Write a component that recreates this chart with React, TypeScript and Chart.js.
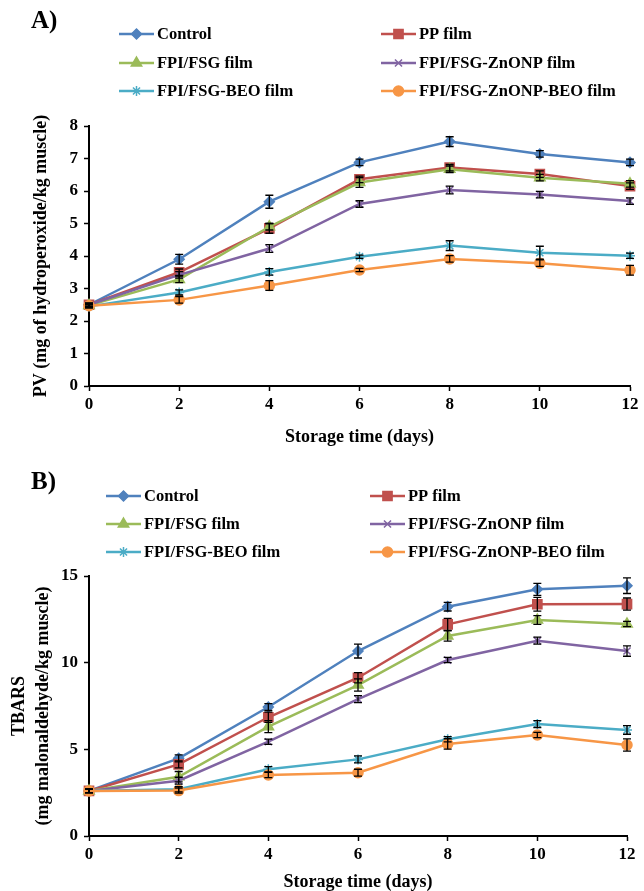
import React, { useEffect, useRef } from "react";
import { Chart, registerables } from "chart.js";
import { drawPoint } from "chart.js/helpers";

Chart.register(...registerables);

const FONT = '"Liberation Serif", "Times New Roman", "DejaVu Serif", serif';

// ---------- data ----------
const days = [0, 2, 4, 6, 8, 10, 12];
const seriesNames = [
  "Control",
  "PP film",
  "FPI/FSG film",
  "FPI/FSG-ZnONP film",
  "FPI/FSG-BEO film",
  "FPI/FSG-ZnONP-BEO film",
];
const seriesColors = ["#4F81BD", "#C0504D", "#9BBB59", "#8064A2", "#4BACC6", "#F79646"];
const seriesMarkers = ["rectRot", "rect", "triangle", "crossRot", "star", "circle"];
const markerRadius = [5, 6.5, 6, 5, 5, 5];

// Panel A: PV (mg of hydroperoxide/kg muscle)
const pvControl = [2.5, 3.9, 5.67, 6.88, 7.52, 7.14, 6.88];
const pvPP = [2.5, 3.5, 4.85, 6.36, 6.72, 6.52, 6.15];
const pvFSG = [2.48, 3.28, 4.9, 6.26, 6.67, 6.41, 6.22];
const pvZnONP = [2.5, 3.42, 4.23, 5.6, 6.03, 5.89, 5.69];
const pvBEO = [2.45, 2.88, 3.51, 3.98, 4.32, 4.1, 4.01];
const pvZnONPBEO = [2.47, 2.65, 3.09, 3.57, 3.91, 3.78, 3.56];

const pvErrControl = [0.05, 0.15, 0.2, 0.1, 0.15, 0.1, 0.1];
const pvErrPP = [0.05, 0.1, 0.15, 0.1, 0.1, 0.1, 0.1];
const pvErrFSG = [0.05, 0.1, 0.1, 0.15, 0.1, 0.1, 0.1];
const pvErrZnONP = [0.05, 0.1, 0.12, 0.1, 0.12, 0.1, 0.1];
const pvErrBEO = [0.05, 0.08, 0.1, 0.05, 0.15, 0.2, 0.08];
const pvErrZnONPBEO = [0.05, 0.1, 0.15, 0.05, 0.1, 0.1, 0.15];

// Panel B: TBARS (mg malonaldehyde/kg muscle)
const tbControl = [2.6, 4.48, 7.44, 10.67, 13.23, 14.23, 14.44];
const tbPP = [2.6, 4.13, 6.85, 9.13, 12.21, 13.37, 13.38];
const tbFSG = [2.6, 3.42, 6.31, 8.71, 11.54, 12.46, 12.23];
const tbZnONP = [2.6, 3.19, 5.44, 7.9, 10.15, 11.27, 10.67];
const tbBEO = [2.6, 2.7, 3.85, 4.42, 5.58, 6.46, 6.12];
const tbZnONPBEO = [2.6, 2.62, 3.52, 3.65, 5.31, 5.83, 5.25];

const tbErrControl = [0.1, 0.2, 0.2, 0.4, 0.25, 0.35, 0.45];
const tbErrPP = [0.1, 0.2, 0.3, 0.3, 0.35, 0.4, 0.35];
const tbErrFSG = [0.1, 0.3, 0.35, 0.35, 0.3, 0.25, 0.15];
const tbErrZnONP = [0.1, 0.2, 0.15, 0.2, 0.15, 0.2, 0.3];
const tbErrBEO = [0.1, 0.15, 0.15, 0.2, 0.15, 0.2, 0.25];
const tbErrZnONPBEO = [0.1, 0.15, 0.15, 0.2, 0.3, 0.15, 0.35];

const xMin = 0;
const xMax = 12;
const xStep = 2;
const pvYMax = 8;
const pvYStep = 1;
const tbYMax = 15;
const tbYStep = 5;

const xTitle = "Storage time (days)";
const pvYTitle = "PV (mg of hydroperoxide/kg muscle)";
const tbYTitle = ["TBARS", "(mg malonaldehyde/kg muscle)"];

// ---------- helpers ----------
type PanelSpec = {
  values: number[][];
  errors: number[][];
  yMax: number;
  yStep: number;
  yTitle: string | string[];
  yTitlePad: number;
  yTitleLineHeight: number;
  label: string;
  labelX: number;
  labelY: number;
  legendCols: number[];
  legendRows: number[];
  height: number;
  areaTop: number;
  areaBottom: number;
  areaRight: number;
  areaLeft: number;
  xTitlePad: number;
  xTitleLineHeight: number;
};

function makeConfig(p: PanelSpec): any {
  const errorBarPlugin = {
    id: "errorBars",
    afterDatasetsDraw(chart: any) {
      const ctx = chart.ctx;
      const ys = chart.scales.y;
      ctx.save();
      ctx.strokeStyle = "#000";
      ctx.lineWidth = 1.3;
      p.errors.forEach((errs, i) => {
        const meta = chart.getDatasetMeta(i);
        meta.data.forEach((pt: any, j: number) => {
          const v = p.values[i][j];
          const e = errs[j];
          const y1 = ys.getPixelForValue(v + e);
          const y2 = ys.getPixelForValue(v - e);
          ctx.beginPath();
          ctx.moveTo(pt.x, y1);
          ctx.lineTo(pt.x, y2);
          ctx.moveTo(pt.x - 4, y1);
          ctx.lineTo(pt.x + 4, y1);
          ctx.moveTo(pt.x - 4, y2);
          ctx.lineTo(pt.x + 4, y2);
          ctx.stroke();
        });
      });
      ctx.restore();
    },
  };

  const overlayPlugin = {
    id: "panelOverlay",
    afterDraw(chart: any) {
      const ctx = chart.ctx;
      ctx.save();
      ctx.fillStyle = "#000";
      ctx.textAlign = "left";
      ctx.textBaseline = "middle";
      ctx.font = `bold 25px ${FONT}`;
      ctx.fillText(p.label, p.labelX, p.labelY);
      ctx.font = `bold 16.5px ${FONT}`;
      const lineLen = 35;
      seriesNames.forEach((name, i) => {
        const x = p.legendCols[i % 2];
        const y = p.legendRows[Math.floor(i / 2)];
        ctx.strokeStyle = seriesColors[i];
        ctx.lineWidth = 2.5;
        ctx.beginPath();
        ctx.moveTo(x, y);
        ctx.lineTo(x + lineLen, y);
        ctx.stroke();
        ctx.fillStyle = seriesColors[i];
        ctx.strokeStyle = seriesColors[i];
        ctx.lineWidth = 1.5;
        drawPoint(
          ctx,
          { pointStyle: seriesMarkers[i], radius: markerRadius[i], rotation: 0, borderWidth: 1.5 } as any,
          x + lineLen / 2,
          y
        );
        ctx.fillStyle = "#000";
        ctx.fillText(name, x + lineLen + 3, y + 1);
      });
      ctx.restore();
    },
  };

  const tickFont = { family: FONT, size: 17, weight: "bold" as const };
  const titleFont = { family: FONT, size: 18, weight: "bold" as const };

  return {
    type: "line",
    data: {
      datasets: p.values.map((vals, i) => ({
        label: seriesNames[i],
        data: vals.map((v, j) => ({ x: days[j], y: v })),
        borderColor: seriesColors[i],
        backgroundColor: seriesColors[i],
        borderWidth: 2.5,
        pointStyle: seriesMarkers[i],
        pointRadius: markerRadius[i],
        pointBackgroundColor: seriesColors[i],
        pointBorderColor: seriesColors[i],
        pointBorderWidth: 1.5,
        tension: 0,
        clip: false,
        order: seriesNames.length - i,
      })),
    },
    options: {
      responsive: false,
      animation: false,
      events: [],
      layout: {
        padding: { top: p.areaTop, left: 0, right: 644 - p.areaRight, bottom: 0 },
      },
      plugins: {
        legend: { display: false },
        tooltip: { enabled: false },
        title: { display: false },
      },
      scales: {
        x: {
          type: "linear",
          min: xMin,
          max: xMax,
          afterFit: (s: any) => {
            s.height = p.height - p.areaBottom;
          },
          ticks: { stepSize: xStep, color: "#000", font: tickFont, padding: 3, maxRotation: 0 },
          grid: {
            drawOnChartArea: false,
            drawTicks: true,
            tickLength: 5,
            tickColor: "#000",
            tickWidth: 1.5,
          },
          border: { display: true, color: "#000", width: 2 },
          title: {
            display: true,
            text: xTitle,
            color: "#000",
            font: { ...titleFont, lineHeight: p.xTitleLineHeight },
            padding: { top: 0, bottom: p.xTitlePad },
          },
        },
        y: {
          type: "linear",
          min: 0,
          max: p.yMax,
          afterFit: (s: any) => {
            s.width = p.areaLeft;
          },
          ticks: { stepSize: p.yStep, color: "#000", font: tickFont, padding: 6 },
          grid: {
            drawOnChartArea: false,
            drawTicks: true,
            tickLength: 5,
            tickColor: "#000",
            tickWidth: 1.5,
          },
          border: { display: true, color: "#000", width: 2 },
          title: {
            display: true,
            text: p.yTitle,
            color: "#000",
            font: { ...titleFont, lineHeight: p.yTitleLineHeight },
            padding: { top: p.yTitlePad, bottom: 0 },
          },
        },
      },
    },
    plugins: [errorBarPlugin, overlayPlugin],
  };
}

function Panel({ top, spec }: { top: number; spec: PanelSpec }) {
  const ref = useRef<HTMLCanvasElement>(null);
  useEffect(() => {
    const chart = new Chart(ref.current as HTMLCanvasElement, makeConfig(spec));
    return () => chart.destroy();
  }, []);
  return (
    <div style={{ position: "absolute", left: 0, top, width: 644, height: spec.height }}>
      <canvas ref={ref} width={644} height={spec.height} style={{ display: "block", width: 644, height: spec.height }} />
    </div>
  );
}

const panelA: PanelSpec = {
  values: [pvControl, pvPP, pvFSG, pvZnONP, pvBEO, pvZnONPBEO],
  errors: [pvErrControl, pvErrPP, pvErrFSG, pvErrZnONP, pvErrBEO, pvErrZnONPBEO],
  yMax: pvYMax,
  yStep: pvYStep,
  yTitle: pvYTitle,
  yTitlePad: 31,
  yTitleLineHeight: 1.2,
  label: "A)",
  labelX: 31,
  labelY: 22,
  legendCols: [119, 381],
  legendRows: [34, 63, 91],
  height: 450,
  areaTop: 126,
  areaBottom: 386,
  areaLeft: 89,
  areaRight: 630,
  xTitlePad: 2,
  xTitleLineHeight: 1.2,
};

const panelB: PanelSpec = {
  values: [tbControl, tbPP, tbFSG, tbZnONP, tbBEO, tbZnONPBEO],
  errors: [tbErrControl, tbErrPP, tbErrFSG, tbErrZnONP, tbErrBEO, tbErrZnONPBEO],
  yMax: tbYMax,
  yStep: tbYStep,
  yTitle: tbYTitle,
  yTitlePad: 8,
  yTitleLineHeight: 1.3,
  label: "B)",
  labelX: 31,
  labelY: 28,
  legendCols: [106, 370],
  legendRows: [41, 69, 97],
  height: 436,
  areaTop: 121,
  areaBottom: 381,
  areaLeft: 89,
  areaRight: 627,
  xTitlePad: 0,
  xTitleLineHeight: 1.0,
};

export default function App() {
  return (
    <div style={{ position: "absolute", left: 0, top: 0, width: 644, height: 891, background: "#fff" }}>
      <Panel top={0} spec={panelA} />
      <Panel top={455} spec={panelB} />
    </div>
  );
}
